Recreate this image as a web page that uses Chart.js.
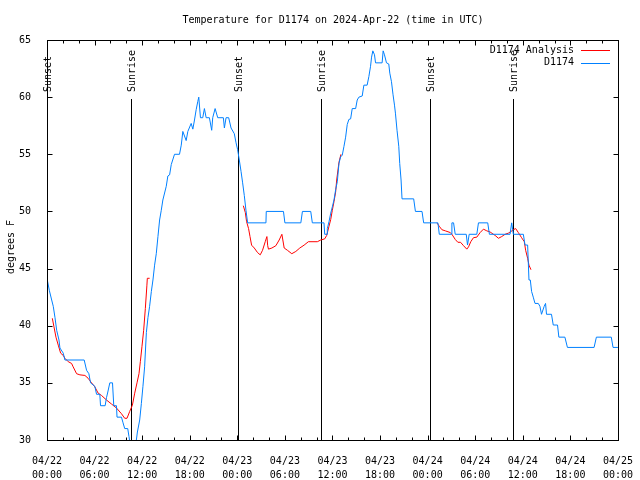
<!DOCTYPE html>
<html>
<head>
<meta charset="utf-8">
<script src="https://cdn.jsdelivr.net/npm/chart.js@4"></script>
<style>
  html, body { margin: 0; padding: 0; background: #fff; }
  #wrap { width: 640px; height: 480px; }
</style>
</head>
<body>
<div id="wrap"><canvas id="tempChart"></canvas></div>
<script>
// hours since 04/22 00:00 UTC
const obsHours = [0.04, 0.29, 0.59, 0.79, 1.01, 1.22, 1.51, 1.63, 2.05, 2.26, 4.69, 4.99, 5.28, 5.49, 6.03, 6.25, 6.66, 6.75, 7.33, 7.50, 7.67, 7.92, 8.26, 8.42, 8.76, 8.83, 9.39, 9.59, 9.80, 10.18, 10.34, 10.62, 10.93, 11.27, 11.40, 11.69, 11.90, 12.10, 12.31, 12.53, 12.73, 12.94, 13.16, 13.36, 13.57, 13.78, 13.99, 14.20, 14.41, 14.61, 15.04, 15.24, 15.46, 15.67, 16.08, 16.71, 16.93, 17.13, 17.34, 17.55, 17.76, 18.18, 18.39, 18.60, 18.81, 19.01, 19.14, 19.35, 19.64, 19.85, 20.07, 20.48, 20.77, 20.90, 21.20, 21.53, 22.24, 22.37, 22.58, 22.91, 23.21, 23.62, 23.84, 24.04, 24.25, 24.47, 24.67, 24.88, 25.09, 25.30, 27.61, 27.65, 29.82, 30.00, 32.01, 32.21, 33.26, 33.46, 34.93, 35.02, 35.31, 35.35, 35.56, 35.78, 35.98, 36.19, 36.40, 36.61, 36.82, 37.03, 37.23, 37.45, 37.66, 37.86, 38.07, 38.29, 38.49, 38.92, 39.12, 39.33, 39.75, 39.96, 40.37, 40.59, 40.80, 40.93, 41.09, 41.30, 41.43, 42.26, 42.39, 42.56, 42.81, 43.10, 43.23, 43.44, 43.64, 43.82, 43.94, 44.14, 44.36, 44.48, 44.65, 44.77, 46.24, 46.46, 47.29, 47.50, 49.30, 49.47, 50.98, 51.06, 51.27, 51.48, 52.87, 53.03, 53.24, 54.20, 54.41, 55.58, 55.79, 58.39, 58.60, 58.81, 60.07, 60.28, 60.61, 60.78, 60.95, 61.11, 61.32, 61.54, 61.95, 62.16, 62.36, 62.70, 62.87, 62.99, 63.62, 63.84, 64.38, 64.55, 65.31, 65.63, 68.99, 69.28, 71.16, 71.38, 72.0];
const obsTemps = [44.0, 43.1, 42.25, 41.7, 40.7, 39.6, 38.75, 38.05, 37.6, 37.0, 37.0, 36.1, 35.8, 35.0, 34.7, 34.0, 34.0, 33.0, 33.0, 33.7, 34.2, 35.0, 35.0, 33.0, 33.0, 32.0, 32.0, 31.5, 31.0, 31.0, 30.3, 29.0, 28.5, 30.0, 30.7, 31.75, 33.2, 34.7, 36.4, 39.4, 40.7, 41.7, 43.0, 44.0, 45.3, 46.3, 47.8, 49.25, 50.1, 51.0, 52.2, 53.1, 53.2, 54.1, 55.0, 55.0, 55.8, 57.0, 56.6, 56.2, 57.0, 57.7, 57.2, 58.0, 58.9, 59.6, 60.0, 58.2, 58.2, 59.0, 58.2, 58.2, 57.1, 58.2, 59.0, 58.2, 58.2, 57.3, 58.2, 58.2, 57.3, 56.8, 56.0, 55.4, 54.5, 53.5, 52.5, 51.4, 50.1, 49.0, 49.0, 50.0, 50.0, 49.0, 49.0, 50.0, 50.0, 49.0, 49.0, 48.0, 48.0, 48.5, 49.1, 49.85, 50.4, 51.0, 51.9, 52.6, 54.2, 54.8, 54.9, 55.7, 56.5, 57.6, 58.05, 58.1, 59.0, 59.0, 59.75, 60.0, 60.1, 61.05, 61.05, 61.8, 62.7, 63.5, 64.05, 63.7, 63.0, 63.0, 64.05, 63.7, 63.0, 62.9, 62.1, 61.35, 60.2, 59.3, 58.6, 57.1, 55.7, 54.2, 52.75, 51.1, 51.1, 50.0, 50.0, 49.0, 49.0, 48.0, 48.0, 49.0, 49.0, 48.0, 48.0, 47.06, 48.0, 48.0, 49.0, 49.0, 48.0, 48.0, 49.0, 48.0, 48.0, 47.06, 47.06, 44.0, 44.0, 43.0, 42.5, 41.95, 41.95, 41.7, 41.0, 41.7, 41.95, 41.0, 41.0, 40.06, 40.06, 39.0, 39.0, 38.1, 38.1, 39.0, 39.0, 38.1, 38.1];

// analysis series, null marks a gap
const anaHours = [0.67, 0.88, 1.13, 1.42, 1.72, 2.05, 2.26, 2.68, 3.10, 3.30, 3.73, 4.15, 4.78, 5.19, 5.62, 6.03, 6.45, 6.87, 7.50, 8.13, 8.76, 9.39, 9.80, 10.09, 10.43, 10.77, 11.06, 11.35, 11.60, 11.77, 11.98, 12.19, 12.40, 12.60, 12.65, 12.94, 18.0,
  24.76, 25.01, 25.17, 25.42, 25.60, 25.80, 26.14, 26.55, 26.89, 27.18, 27.52, 27.73, 27.83, 27.93, 28.36, 28.86, 29.28, 29.62, 29.91, 30.32, 30.87, 31.38, 31.88, 32.42, 32.96, 34.09, 34.52, 35.02, 35.27, 35.56, 35.78, 35.98, 36.19, 36.40, 36.53, 36.82, 37.07, 42.0,
  49.17, 49.47, 49.80, 50.23, 50.86, 51.06, 51.48, 51.81, 52.15, 52.53, 52.94, 53.16, 53.44, 53.78, 54.20, 54.62, 55.04, 55.46, 55.88, 56.51, 56.93, 57.34, 57.77, 58.18, 58.52, 58.81, 59.10, 59.44, 59.85, 60.19, 60.36, 60.61, 60.78, 61.03];
const anaTemps = [40.65, 39.9, 39.0, 38.3, 37.6, 37.4, 37.15, 36.85, 36.7, 36.4, 35.8, 35.7, 35.65, 35.4, 35.0, 34.65, 34.1, 33.9, 33.5, 33.15, 32.8, 32.3, 31.9, 31.9, 32.5, 33.05, 34.1, 35.0, 35.8, 36.85, 38.2, 39.6, 41.5, 43.55, 44.15, 44.15, null,
  50.5, 49.9, 49.1, 48.5, 47.8, 47.05, 46.8, 46.4, 46.2, 46.6, 47.35, 47.8, 47.0, 46.7, 46.8, 47.0, 47.5, 48.0, 46.8, 46.6, 46.3, 46.5, 46.8, 47.05, 47.35, 47.35, 47.5, 47.6, 47.9, 48.7, 49.3, 50.1, 50.85, 51.7, 52.75, 54.3, 55.0, null,
  49.0, 48.7, 48.4, 48.3, 48.15, 48.0, 47.55, 47.3, 47.3, 47.0, 46.7, 46.9, 47.35, 47.7, 47.75, 48.15, 48.45, 48.3, 48.2, 47.9, 47.65, 47.8, 48.0, 48.1, 48.25, 48.4, 48.5, 48.15, 47.7, 47.35, 46.6, 45.9, 45.3, 44.9];

const sunLabels = ['Sunset', 'Sunrise', 'Sunset', 'Sunrise', 'Sunset', 'Sunrise'];
const sunHours = [0.0, 10.55, 24.1, 34.6, 48.3, 58.75];

const dayLabels = ['04/22', '04/23', '04/24', '04/25'];
const seriesNames = ['D1174 Analysis', 'D1174'];
const seriesColors = ['#ff0000', '#0080ff'];

const FONT = '10px "DejaVu Sans Mono"';

function pad2(n) { return (n < 10 ? '0' : '') + n; }

const gnuplotDecor = {
  id: 'gnuplotDecor',
  beforeDatasetsDraw(chart) {
    const ctx = chart.ctx;
    const x = chart.scales.x;
    const area = chart.chartArea;
    ctx.save();
    ctx.strokeStyle = '#000';
    ctx.lineWidth = 1;
    ctx.fillStyle = '#000';
    ctx.font = FONT;
    for (let i = 0; i < sunHours.length; i++) {
      const px = Math.round(x.getPixelForValue(sunHours[i])) + 0.5;
      ctx.beginPath();
      ctx.moveTo(px, 99);
      ctx.lineTo(px, area.bottom);
      ctx.stroke();
      ctx.save();
      ctx.translate(px + 1, 92);
      ctx.rotate(-Math.PI / 2);
      ctx.textAlign = 'left';
      ctx.textBaseline = 'middle';
      ctx.fillText(sunLabels[i], 0, 0);
      ctx.restore();
    }
    ctx.restore();
  },
  afterDraw(chart) {
    const ctx = chart.ctx;
    const x = chart.scales.x;
    const y = chart.scales.y;
    const a = chart.chartArea;
    ctx.save();
    ctx.strokeStyle = '#000';
    ctx.lineWidth = 1;
    const L = Math.round(a.left) + 0.5, R = Math.round(a.right) + 0.5;
    const T = Math.round(a.top) + 0.5, B = Math.round(a.bottom) + 0.5;
    ctx.strokeRect(L, T, R - L, B - T);
    ctx.beginPath();
    for (let h = 0; h <= 72; h += 2) {
      const px = Math.round(x.getPixelForValue(h)) + 0.5;
      const len = h % 6 === 0 ? 5 : 3;
      ctx.moveTo(px, B); ctx.lineTo(px, B - len);
      ctx.moveTo(px, T); ctx.lineTo(px, T + len);
    }
    for (let v = 30; v <= 65; v += 5) {
      const py = Math.round(y.getPixelForValue(v)) + 0.5;
      ctx.moveTo(L, py); ctx.lineTo(L + 5, py);
      ctx.moveTo(R, py); ctx.lineTo(R - 5, py);
    }
    ctx.stroke();

    ctx.fillStyle = '#000';
    ctx.font = FONT;
    ctx.textAlign = 'center';
    ctx.textBaseline = 'middle';
    ctx.fillText('Temperature for D1174 on 2024-Apr-22 (time in UTC)', 333, 20);

    ctx.save();
    ctx.translate(11, 247);
    ctx.rotate(-Math.PI / 2);
    ctx.fillText('degrees F', 0, 0);
    ctx.restore();

    // key, top right inside the plot
    ctx.textAlign = 'right';
    for (let i = 0; i < seriesNames.length; i++) {
      const ly = 50 + i * 12.5;
      ctx.fillText(seriesNames[i], 574, ly);
      ctx.strokeStyle = seriesColors[i];
      ctx.beginPath();
      ctx.moveTo(581, Math.round(ly) + 0.5);
      ctx.lineTo(610, Math.round(ly) + 0.5);
      ctx.stroke();
    }
    ctx.restore();
  }
};

const ctx = document.getElementById('tempChart').getContext('2d');
const chart = new Chart(ctx, {
  type: 'line',
  data: {
    datasets: [
      {
        label: seriesNames[1],
        data: obsHours.map((h, i) => ({ x: h, y: obsTemps[i] })),
        borderColor: seriesColors[1],
        borderWidth: 1,
        pointRadius: 0,
        tension: 0,
        spanGaps: false,
      },
      {
        label: seriesNames[0],
        data: anaHours.map((h, i) => ({ x: h, y: anaTemps[i] })),
        borderColor: seriesColors[0],
        borderWidth: 1,
        pointRadius: 0,
        tension: 0,
        spanGaps: false,
      }
    ]
  },
  options: {
    responsive: true,
    maintainAspectRatio: false,
    animation: false,
    events: [],
    layout: { padding: { top: 40, right: 19, left: 0, bottom: 0 } },
    plugins: {
      legend: { display: false },
      tooltip: { enabled: false },
    },
    scales: {
      x: {
        type: 'linear',
        min: 0,
        max: 72,
        grid: { display: false },
        border: { display: false },
        afterFit(scale) { scale.height = 40; },
        ticks: {
          stepSize: 6,
          autoSkip: false,
          maxRotation: 0,
          padding: 7,
          color: '#000',
          font: { family: 'DejaVu Sans Mono', size: 10, lineHeight: 1.35 },
          callback(value) {
            const day = Math.floor(value / 24);
            return [dayLabels[day], pad2(value % 24) + ':00'];
          }
        }
      },
      y: {
        min: 30,
        max: 65,
        grid: { display: false },
        border: { display: false },
        afterFit(scale) { scale.width = 47; },
        ticks: {
          stepSize: 5,
          padding: 8,
          color: '#000',
          font: { family: 'DejaVu Sans Mono', size: 10 },
        }
      }
    }
  },
  plugins: [gnuplotDecor]
});
</script>
</body>
</html>
